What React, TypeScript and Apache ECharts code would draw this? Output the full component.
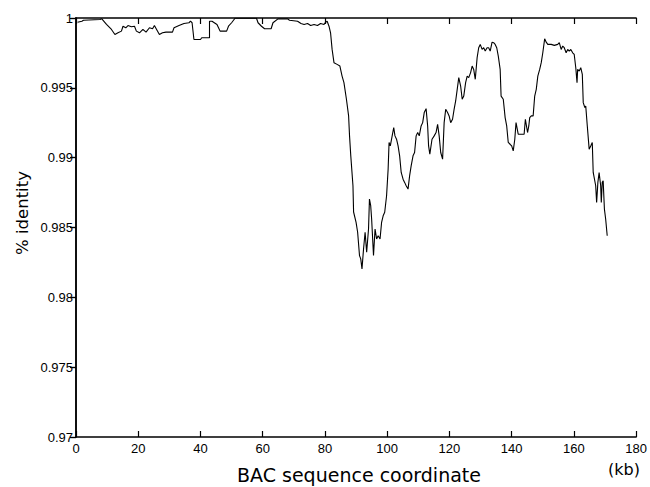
import React, { useEffect, useRef } from "react";
import * as echarts from "echarts";

// BAC sequence coordinate (kb)
const kb = [
  0.5, 1.9, 2.4, 7.7, 8.3, 9.8, 11.4, 12.5, 13.5, 14.6, 15.1, 16.0, 16.7, 17.8, 18.8, 19.4, 20.4, 21.5, 22.5, 23.6,
  24.6, 25.2, 25.9, 26.8, 27.8, 28.9, 31.0, 31.5, 33.1, 34.7, 36.3, 36.8, 37.3, 37.9, 40.0, 40.4, 42.9, 42.9, 43.7, 45.3,
  45.8, 46.3, 48.4, 49.0, 50.0, 51.1, 58.0, 58.5, 59.6, 60.6, 62.7, 63.3, 64.9, 68.0, 68.6, 71.2, 72.3, 73.3, 74.4, 75.4,
  76.5, 77.6, 78.6, 79.7, 80.2, 80.7, 81.3, 81.8, 82.3, 82.9, 83.9, 84.8, 85.5, 86.1, 86.9, 87.6, 87.9, 88.3, 89.0, 89.2,
  90.0, 90.5, 91.1, 91.5, 91.9, 92.4, 92.9, 93.4, 94.0, 94.3, 94.7, 95.0, 95.6, 96.1, 96.6, 97.1, 97.7, 98.2, 98.7, 99.2,
  99.8, 100.3, 100.6, 101.0, 101.7, 102.1, 102.5, 103.0, 103.5, 104.0, 104.5, 105.1, 105.6, 106.1, 106.7, 107.2, 107.7, 108.3, 108.8, 109.3,
  109.8, 110.3, 110.9, 111.4, 111.9, 112.5, 113.0, 113.3, 113.7, 114.4, 115.1, 115.7, 116.2, 116.7, 117.2, 117.8, 118.3, 118.8, 119.4, 119.9,
  120.4, 121.0, 121.5, 122.0, 122.5, 123.0, 123.6, 124.1, 124.6, 125.2, 125.7, 126.2, 126.8, 127.3, 127.8, 128.3, 128.9, 129.4, 129.9, 130.5,
  131.0, 131.5, 132.1, 132.6, 133.1, 133.7, 134.2, 134.7, 135.2, 135.7, 136.3, 136.6, 137.3, 137.9, 138.4, 138.9, 139.5, 140.0, 140.5, 141.0,
  141.4, 142.1, 143.2, 144.0, 144.4, 145.1, 145.5, 145.8, 146.3, 146.9, 147.4, 147.9, 148.4, 149.0, 149.5, 150.0, 150.6, 151.1, 151.6, 152.7,
  153.7, 154.8, 155.3, 155.9, 156.4, 156.9, 157.5, 158.0, 158.5, 159.0, 159.6, 160.1, 160.6, 161.0, 161.2, 161.7, 162.2, 162.7, 163.0, 163.5,
  163.8, 164.3, 164.9, 165.4, 165.9, 166.2, 167.0, 167.3, 167.7, 168.1, 168.6, 168.8, 169.1, 169.4, 169.8, 170.2, 170.7,
];

// % identity
const identity = [
  0.9997, 0.99977, 0.99984, 0.99989, 0.99994, 0.99954, 0.99918, 0.99882, 0.99894, 0.99906, 0.99941, 0.9993, 0.99946, 0.99937, 0.99941, 0.99906, 0.99894, 0.99918, 0.99899, 0.9993,
  0.99923, 0.99946, 0.99918, 0.99882, 0.99894, 0.99899, 0.99899, 0.9993, 0.99946, 0.99961, 0.99966, 0.99977, 0.99966, 0.99846, 0.99846, 0.99859, 0.99859, 0.99977, 0.99977, 0.99954,
  0.9993, 0.99906, 0.99906, 0.99941, 0.99966, 0.99998, 0.99998, 0.99966, 0.99941, 0.99923, 0.99923, 0.99966, 0.99994, 0.99994, 0.99984, 0.99977, 0.99961, 0.99954, 0.99961, 0.99946,
  0.99954, 0.99946, 0.99961, 0.99954, 0.9997, 0.99977, 0.99941, 0.99894, 0.99775, 0.9968, 0.99668, 0.99656, 0.99584, 0.99537, 0.99418, 0.99299, 0.99156, 0.99013, 0.98799, 0.98611,
  0.98537, 0.98466, 0.98299, 0.98275, 0.98204, 0.98346, 0.98466, 0.98323, 0.98489, 0.98704, 0.98656, 0.98561, 0.98299, 0.98489, 0.98418, 0.98441, 0.98418, 0.98537, 0.98584, 0.98609,
  0.98727, 0.98918, 0.99109, 0.99084, 0.99168, 0.99216, 0.99156, 0.99132, 0.99084, 0.99013, 0.98894, 0.98846, 0.98823, 0.98799, 0.98775, 0.9887, 0.98941, 0.99013, 0.99037, 0.99156,
  0.9918, 0.99156, 0.99227, 0.99251, 0.99323, 0.99351, 0.99227, 0.99084, 0.99025, 0.99132, 0.99156, 0.9918, 0.99239, 0.99156, 0.99037, 0.98989, 0.99251, 0.99346, 0.99323, 0.99299,
  0.99251, 0.99275, 0.99346, 0.99406, 0.99489, 0.99573, 0.99513, 0.99418, 0.99441, 0.99537, 0.99584, 0.99573, 0.99609, 0.99656, 0.99632, 0.99561, 0.99716, 0.99787, 0.99811, 0.99775,
  0.99787, 0.99763, 0.99787, 0.99787, 0.99763, 0.99827, 0.99823, 0.99811, 0.99787, 0.99727, 0.99632, 0.99441, 0.99418, 0.99287, 0.99227, 0.99109, 0.99096, 0.99084, 0.99049, 0.99132,
  0.99251, 0.99168, 0.99168, 0.99168, 0.99275, 0.9918, 0.99227, 0.99287, 0.99299, 0.99299, 0.99441, 0.99489, 0.99584, 0.99632, 0.9968, 0.99751, 0.99851, 0.99827, 0.99811, 0.99811,
  0.99804, 0.99811, 0.99823, 0.99775, 0.99799, 0.99787, 0.99751, 0.99775, 0.99763, 0.99775, 0.99751, 0.99739, 0.99644, 0.99537, 0.99632, 0.9962, 0.99644, 0.99596, 0.99394, 0.99359,
  0.9937, 0.99227, 0.99061, 0.99084, 0.99109, 0.98894, 0.98799, 0.9868, 0.98823, 0.98894, 0.98799, 0.9868, 0.98823, 0.98834, 0.98632, 0.98561, 0.98441,
];

const xTitle = "BAC sequence coordinate";
const yTitle = "% identity";
const xUnit = "(kb)";

export default function App() {
  const ref = useRef<HTMLDivElement>(null);

  useEffect(() => {
    if (!ref.current) return;
    const chart = echarts.init(ref.current, null, { renderer: "svg" });
    const data = kb.map((x, i) => [x, identity[i]]);
    const axisLine = { show: true, lineStyle: { color: "#000", width: 1.5 } };
    const labelFont = { color: "#000", fontSize: 13, fontFamily: "Liberation Sans, Arial, sans-serif" };
    chart.setOption({
      animation: false,
      backgroundColor: "#fff",
      grid: { left: 76, right: 8, top: 18, bottom: 50, show: false },
      xAxis: [
        {
          type: "value",
          min: 0,
          max: 180,
          interval: 20,
          position: "bottom",
          axisLine,
          axisTick: { show: true, inside: true, length: 6, lineStyle: { color: "#000", width: 1.2 } },
          axisLabel: { ...labelFont, margin: 5 },
          splitLine: { show: false },
        },
        {
          type: "value",
          min: 0,
          max: 180,
          interval: 20,
          position: "top",
          axisLine,
          axisTick: { show: true, inside: true, length: 6, lineStyle: { color: "#000", width: 1.2 } },
          axisLabel: { show: false },
          splitLine: { show: false },
        },
      ],
      yAxis: [
        {
          type: "value",
          min: 0.97,
          max: 1,
          interval: 0.005,
          position: "left",
          axisLine,
          axisTick: { show: true, inside: false, length: 5, lineStyle: { color: "#000", width: 1.2 } },
          axisLabel: {
            ...labelFont,
            margin: 3,
            formatter: (v: number) => String(parseFloat(v.toFixed(3))),
          },
          splitLine: { show: false },
        },
        {
          type: "value",
          min: 0.97,
          max: 1,
          interval: 0.005,
          position: "right",
          axisLine,
          axisTick: { show: true, inside: true, length: 6, lineStyle: { color: "#000", width: 1.2 } },
          axisLabel: { show: false },
          splitLine: { show: false },
        },
      ],
      series: [
        {
          type: "line",
          data,
          xAxisIndex: 0,
          yAxisIndex: 0,
          symbol: "none",
          lineStyle: { color: "#000", width: 1.1 },
        },
      ],
      graphic: [
        {
          type: "text",
          x: 22,
          y: 213,
          rotation: Math.PI / 2,
          style: {
            text: yTitle,
            fill: "#000",
            fontSize: 16.5,
            fontFamily: "DejaVu Sans, sans-serif",
            align: "center",
            verticalAlign: "middle",
          },
        },
        {
          type: "text",
          x: 359,
          y: 475,
          style: {
            text: xTitle,
            fill: "#000",
            fontSize: 19,
            fontFamily: "DejaVu Sans, sans-serif",
            align: "center",
            verticalAlign: "middle",
          },
        },
        {
          type: "text",
          x: 624,
          y: 469,
          style: {
            text: xUnit,
            fill: "#000",
            fontSize: 16,
            fontFamily: "DejaVu Sans, sans-serif",
            align: "center",
            verticalAlign: "middle",
          },
        },
      ],
    });
    return () => chart.dispose();
  }, []);

  return (
    <div
      ref={ref}
      style={{ position: "absolute", left: 0, top: 0, width: 650, height: 487 }}
    />
  );
}
